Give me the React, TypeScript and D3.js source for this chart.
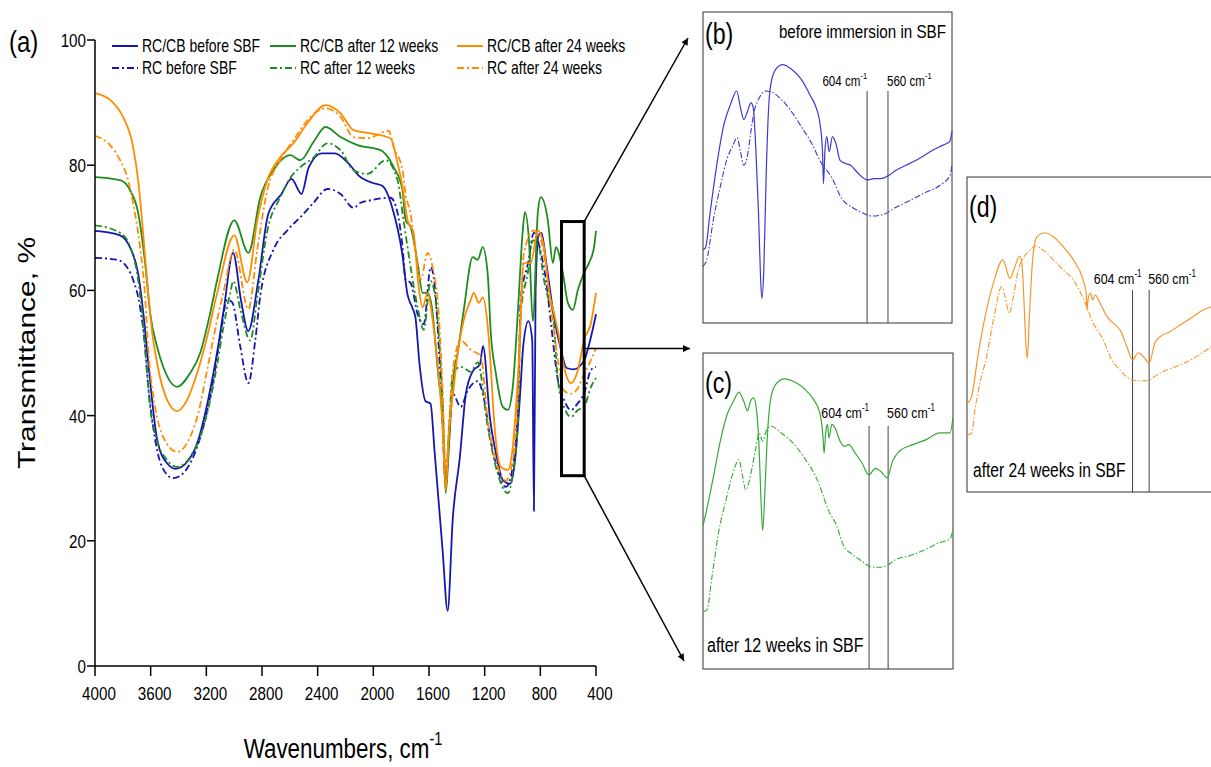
import * as d3 from "d3";
import type { ReactNode } from "react";

// ---- main panel (a) data: [wavenumber cm-1, transmittance %] ----
const wavenumberTicks = [4000, 3600, 3200, 2800, 2400, 2000, 1600, 1200, 800, 400];
const transmittanceTicks = [0, 20, 40, 60, 80, 100];

const rcCbBefore: [number, number][] = [
  [4000, 69.5], [3820, 68.8], [3747, 66.8], [3689, 62.6], [3652, 56.2], [3616, 48.2],
  [3551, 35.9], [3479, 32.3], [3421, 31.5], [3334, 32.7], [3261, 35.9], [3189, 42.3],
  [3117, 50.8], [3073, 57.2], [3008, 66.0], [2950, 58.3], [2899, 53.5], [2827, 61.5],
  [2755, 72.2], [2660, 75.4], [2588, 77.8], [2516, 75.4], [2465, 79.6], [2371, 81.9],
  [2277, 81.9], [2175, 80.2], [2103, 78.3], [2009, 77.2], [1936, 76.7], [1864, 73.2],
  [1792, 65.8], [1755, 59.4], [1719, 57.2], [1697, 55.6], [1668, 48.2], [1625, 42.3],
  [1589, 41.9], [1560, 34.3], [1502, 18.4], [1466, 8.8], [1429, 23.6], [1379, 33.2],
  [1335, 43.5], [1285, 47.1], [1234, 48.2], [1212, 51.1], [1162, 39.6], [1118, 33.9],
  [1067, 29.6], [1017, 29.1], [980, 33.2], [944, 43.9], [923, 51.1], [886, 55.1],
  [858, 52.0], [846, 24.8], [834, 60.0], [814, 68.7], [792, 69.2], [756, 64.2],
  [705, 56.2], [655, 50.8], [611, 47.6], [561, 47.4], [488, 48.7], [438, 52.4], [400, 56.2],
];

const rcBefore: [number, number][] = [
  [4000, 65.2], [3842, 64.9], [3770, 63.7], [3726, 61.7], [3676, 57.3], [3640, 50.9],
  [3626, 46.8], [3582, 38.2], [3518, 31.8], [3439, 30.0], [3366, 30.8], [3294, 33.4],
  [3222, 38.2], [3158, 44.6], [3100, 52.6], [3050, 58.5], [3014, 58.1], [2956, 51.0],
  [2898, 45.2], [2848, 52.1], [2812, 59.2], [2718, 66.5], [2618, 69.6], [2524, 71.7],
  [2430, 74.0], [2330, 76.2], [2236, 75.4], [2142, 73.2], [2092, 74.0], [2020, 74.4],
  [1876, 74.8], [1826, 72.4], [1790, 66.9], [1768, 61.7], [1732, 61.2], [1682, 56.2],
  [1638, 54.6], [1588, 63.7], [1566, 62.1], [1530, 51.0], [1502, 38.0], [1480, 29.0],
  [1451, 38.0], [1430, 43.5], [1372, 41.4], [1322, 44.0], [1250, 45.5], [1206, 42.8],
  [1156, 36.0], [1098, 30.7], [1048, 28.6], [998, 31.8], [962, 41.4], [940, 58.8],
  [890, 64.2], [846, 69.2], [796, 66.0], [760, 61.7], [724, 54.8], [674, 45.7],
  [630, 42.5], [580, 40.9], [530, 42.0], [486, 43.5], [436, 47.3], [400, 47.8],
];

const rcCb12w: [number, number][] = [
  [4000, 78.1], [3820, 77.6], [3748, 76.0], [3690, 72.4], [3640, 64.4], [3604, 56.4],
  [3554, 51.0], [3510, 47.8], [3410, 44.6], [3316, 46.8], [3244, 50.0], [3172, 56.4],
  [3122, 61.7], [2999, 71.2], [2898, 66.0], [2812, 74.9], [2718, 79.2], [2596, 81.6],
  [2524, 80.8], [2430, 83.7], [2344, 86.1], [2236, 84.5], [2114, 83.2], [1948, 82.4],
  [1854, 79.7], [1790, 76.0], [1768, 71.2], [1732, 70.1], [1682, 64.4], [1646, 59.6],
  [1610, 59.6], [1574, 56.4], [1552, 51.0], [1530, 45.7], [1502, 39.8], [1480, 27.6],
  [1458, 34.5], [1430, 45.2], [1394, 50.0], [1350, 56.9], [1286, 65.3], [1250, 64.9],
  [1214, 66.9], [1178, 62.6], [1156, 53.2], [1120, 46.8], [1070, 41.4], [1034, 40.9],
  [998, 44.6], [962, 56.4], [926, 69.6], [911, 72.5], [882, 68.1], [854, 55.1],
  [818, 72.4], [796, 74.9], [746, 71.2], [710, 64.4], [688, 66.9], [638, 62.8],
  [602, 58.0], [566, 56.9], [530, 60.1], [486, 62.8], [450, 64.4], [414, 66.9], [400, 69.5],
];

const rc12w: [number, number][] = [
  [4000, 70.4], [3820, 69.2], [3748, 67.0], [3698, 62.8], [3662, 56.5], [3626, 47.0],
  [3604, 41.4], [3554, 36.0], [3482, 32.9], [3410, 31.8], [3316, 33.4], [3244, 36.6],
  [3172, 42.5], [3122, 48.2], [3078, 54.0], [3028, 59.6], [3006, 61.5], [2956, 57.0],
  [2884, 52.0], [2834, 58.9], [2762, 69.5], [2668, 74.9], [2596, 78.0], [2524, 79.7],
  [2430, 81.2], [2330, 83.5], [2236, 82.4], [2142, 79.2], [2042, 78.6], [1912, 80.8],
  [1826, 77.6], [1783, 71.2], [1732, 63.7], [1682, 57.3], [1638, 53.7], [1588, 61.5],
  [1538, 55.3], [1502, 42.0], [1480, 30.0], [1451, 40.0], [1430, 46.8], [1372, 47.8],
  [1300, 47.0], [1250, 48.5], [1178, 38.2], [1106, 30.7], [1034, 27.6], [998, 30.7],
  [962, 38.8], [940, 56.4], [890, 62.8], [854, 68.0], [810, 66.9], [774, 61.7],
  [746, 59.0], [710, 56.4], [674, 45.7], [630, 41.4], [580, 39.8], [530, 40.9],
  [486, 41.4], [436, 44.6], [400, 46.0],
];

const rcCb24w: [number, number][] = [
  [4000, 91.5], [3870, 90.0], [3798, 87.7], [3726, 82.9], [3690, 77.6], [3662, 71.2],
  [3626, 61.7], [3590, 53.5], [3554, 48.4], [3482, 42.5], [3410, 40.7], [3338, 42.5],
  [3266, 46.8], [3194, 52.6], [3122, 59.6], [2999, 68.8], [2906, 61.3], [2834, 71.2],
  [2762, 77.6], [2668, 81.3], [2574, 83.5], [2474, 86.7], [2344, 89.6], [2236, 88.3],
  [2142, 85.6], [2020, 85.1], [1876, 84.3], [1826, 80.3], [1790, 76.5], [1754, 71.2],
  [1711, 69.2], [1674, 60.5], [1646, 57.3], [1610, 59.6], [1574, 55.3], [1538, 48.4],
  [1502, 38.0], [1480, 28.0], [1458, 37.0], [1422, 44.6], [1394, 49.9], [1350, 55.3],
  [1300, 58.5], [1278, 59.6], [1242, 58.0], [1214, 58.9], [1178, 54.3], [1156, 47.8],
  [1134, 39.8], [1084, 31.8], [1034, 31.3], [998, 35.0], [962, 45.7], [918, 64.4],
  [868, 64.4], [818, 69.6], [774, 66.9], [738, 60.0], [702, 56.4], [666, 52.6],
  [630, 47.8], [580, 45.2], [530, 47.3], [486, 52.1], [436, 54.8], [400, 59.6],
];

const rc24w: [number, number][] = [
  [4000, 84.7], [3892, 83.2], [3820, 80.8], [3762, 77.6], [3726, 73.9], [3676, 66.9],
  [3640, 59.0], [3618, 50.8], [3568, 41.4], [3510, 36.6], [3410, 34.2], [3316, 36.6],
  [3258, 40.4], [3194, 47.3], [3122, 55.3], [3078, 59.6], [2999, 66.5], [2898, 57.0],
  [2834, 66.5], [2762, 76.0], [2668, 80.8], [2574, 84.0], [2452, 87.7], [2344, 89.1],
  [2236, 87.7], [2142, 84.5], [2042, 84.3], [1890, 85.5], [1854, 82.9], [1790, 79.2],
  [1768, 75.4], [1732, 72.2], [1696, 66.0], [1660, 61.7], [1610, 66.0], [1574, 63.7],
  [1530, 56.2], [1502, 44.0], [1480, 31.0], [1451, 40.0], [1430, 47.0], [1372, 52.0],
  [1300, 50.5], [1228, 49.5], [1178, 39.3], [1106, 31.8], [1048, 29.6], [998, 32.9],
  [962, 42.5], [918, 66.0], [846, 69.6], [796, 68.0], [760, 63.7], [724, 57.3],
  [674, 48.9], [630, 44.0], [580, 43.5], [530, 44.4], [486, 46.6], [436, 48.9], [400, 50.8],
];

// ---- inset data: [wavenumber cm-1, relative transmittance] ----
const insetB_solid: [number, number][] = [
  [950, 23.6], [945, 24.1], [935, 35.5], [920, 51.8], [906, 63.8], [892, 70.3], [879, 74.6],
  [871, 69.2], [864, 65.4], [856, 68.1], [849, 70.8], [844, 69.2], [839, 57.2], [833, 35.5],
  [829, 16.1], [826, 7.9], [822, 16.1], [817, 46.4], [812, 68.1], [807, 76.8], [796, 81.7],
  [782, 83.1], [764, 81.7], [743, 78.4], [725, 73.5], [710, 68.6], [704, 64.8], [698, 55.1],
  [696, 44.8], [693, 55.1], [689, 59.9], [684, 55.1], [677, 59.9], [670, 57.8], [661, 52.3],
  [650, 51.3], [639, 50.7], [622, 48.0], [604, 46.0], [589, 46.4], [575, 46.4], [560, 47.3],
  [543, 49.1], [522, 50.7], [494, 52.9], [465, 55.6], [444, 57.2], [430, 58.3], [425, 61.6],
];
const insetB_dash: [number, number][] = [
  [950, 18.2], [942, 20.4], [928, 33.4], [913, 44.2], [899, 52.9], [888, 56.7], [878, 59.6],
  [871, 55.1], [864, 50.7], [856, 54.0], [849, 61.6], [842, 68.1], [832, 72.2], [817, 74.6],
  [803, 74.1], [785, 71.9], [764, 68.1], [743, 63.2], [721, 57.8], [700, 51.3], [679, 46.9],
  [657, 39.9], [636, 37.2], [615, 35.5], [593, 34.4], [568, 35.0], [543, 37.2], [515, 39.3],
  [479, 42.1], [451, 44.2], [429, 47.5], [425, 51.0],
];
const insetC_solid: [number, number][] = [
  [988, 45.4], [979, 50.7], [963, 61.4], [948, 72.1], [932, 80.6], [917, 84.9], [905, 87.6],
  [893, 84.4], [885, 81.7], [878, 84.9], [871, 85.8], [864, 81.7], [858, 68.9], [854, 53.9],
  [850, 43.8], [845, 56.0], [839, 74.2], [831, 85.9], [819, 90.2], [800, 91.8], [776, 90.8],
  [753, 88.6], [733, 85.4], [718, 81.1], [711, 74.2], [708, 68.3], [704, 75.3], [700, 77.4],
  [697, 73.1], [690, 77.4], [683, 76.4], [671, 72.1], [661, 70.5], [651, 71.0], [636, 68.3],
  [620, 65.1], [605, 61.4], [589, 63.5], [577, 62.5], [562, 60.5], [550, 65.7], [534, 68.9],
  [503, 71.0], [472, 72.6], [441, 74.7], [417, 74.7], [410, 79.6],
];
const insetC_dash: [number, number][] = [
  [988, 18.1], [979, 18.7], [967, 29.4], [952, 43.2], [936, 52.8], [920, 61.4], [905, 66.2],
  [897, 61.4], [889, 56.6], [878, 61.4], [866, 69.9], [858, 74.7], [850, 72.1], [842, 75.3],
  [831, 76.9], [807, 74.7], [784, 72.1], [753, 66.7], [722, 59.3], [698, 50.2], [679, 45.4],
  [663, 39.0], [643, 36.3], [620, 34.1], [600, 32.3], [581, 32.2], [562, 32.8], [542, 34.7],
  [511, 35.8], [472, 37.9], [441, 40.0], [417, 41.1], [410, 44.3],
];
const insetD_solid: [number, number][] = [
  [1042, 28.2], [1031, 30.3], [1013, 44.0], [995, 55.7], [973, 66.3], [948, 73.7], [929, 67.8],
  [916, 71.5], [904, 74.9], [898, 73.1], [892, 61.0], [887, 47.2], [883, 42.4], [878, 54.6],
  [869, 73.7], [858, 81.0], [836, 82.3], [814, 81.0], [788, 77.9], [761, 73.7], [735, 67.3],
  [727, 63.1], [725, 57.8], [721, 62.0], [715, 63.1], [710, 61.0], [703, 62.5], [690, 59.9],
  [672, 55.7], [655, 53.6], [637, 51.4], [619, 46.1], [604, 41.9], [589, 44.2], [574, 42.8],
  [560, 40.9], [545, 47.2], [531, 49.3], [505, 50.9], [478, 53.0], [443, 55.7], [417, 57.8],
  [396, 58.8],
];
const insetD_dash: [number, number][] = [
  [1042, 18.1], [1031, 18.6], [1022, 26.0], [1009, 34.5], [991, 43.0], [973, 54.6], [951, 65.2],
  [942, 62.0], [931, 56.7], [920, 62.0], [907, 70.5], [894, 74.2], [876, 76.8], [863, 78.1],
  [841, 76.8], [814, 73.7], [788, 70.5], [761, 67.3], [735, 61.5], [708, 53.6], [682, 48.3],
  [659, 41.9], [637, 38.7], [615, 36.1], [593, 35.3], [567, 35.3], [540, 37.1], [514, 38.7],
  [478, 40.3], [443, 42.4], [408, 45.1], [396, 46.1],
];
const markerBands = [604, 560];

const BLUE = "#1616b0";
const GREEN = "#1e8c1e";
const ORANGE = "#ff8c00";
const DASHDOT = "7,3,2,3";
const FONT = "'Liberation Sans', Arial, sans-serif";
const SQUEEZE = 0.8; // the figure is compressed horizontally, text looks narrow

const mainSeries = [
  { name: "RC/CB before SBF", data: rcCbBefore, color: BLUE, dash: null },
  { name: "RC before SBF", data: rcBefore, color: BLUE, dash: DASHDOT },
  { name: "RC/CB after 12 weeks", data: rcCb12w, color: GREEN, dash: null },
  { name: "RC after 12 weeks", data: rc12w, color: GREEN, dash: DASHDOT },
  { name: "RC/CB after 24 weeks", data: rcCb24w, color: ORANGE, dash: null },
  { name: "RC after 24 weeks", data: rc24w, color: ORANGE, dash: DASHDOT },
];

// narrow text: drawn at (x, y) and squeezed horizontally
function NText({ x, y, size, anchor = "start", children }: {
  x: number; y: number; size: number; anchor?: string; children: ReactNode;
}) {
  return (
    <text transform={`translate(${x},${y}) scale(${SQUEEZE},1)`} fontSize={size} textAnchor={anchor}>
      {children}
    </text>
  );
}

function Superscript({ base, sup, size }: { base: string; sup: string; size: number }) {
  return (
    <>
      {base}
      <tspan dy={-size * 0.45} fontSize={size * 0.65}>{sup}</tspan>
    </>
  );
}

type InsetProps = {
  x: number; y: number; w: number; h: number; plotRight: number;
  domain: [number, number];
  solid: [number, number][]; dash: [number, number][];
  color: string; letter: string; letterY: number;
  caption: string; captionX: number; captionY: number; captionAnchor: string; captionSize: number;
  bandLabelY: number; bandLineTop: number; bandFont: number; band604Shift: number;
};

function Inset(p: InsetProps) {
  const xs = d3.scaleLinear().domain(p.domain).range([p.x, p.plotRight]);
  const ys = d3.scaleLinear().domain([0, 100]).range([p.y + p.h, p.y]);
  const line = d3.line<[number, number]>().x((d) => xs(d[0])).y((d) => ys(d[1])).curve(d3.curveMonotoneX);
  return (
    <g>
      <rect x={p.x} y={p.y} width={p.w} height={p.h} fill="white" stroke="#333" strokeWidth={1} />
      {markerBands.map((b) => (
        <line key={b} x1={xs(b)} x2={xs(b)} y1={p.bandLineTop} y2={p.y + p.h} stroke="#444" strokeWidth={1} />
      ))}
      <path d={line(p.dash) ?? ""} fill="none" stroke={p.color} strokeWidth={1.1} strokeDasharray="6,2,1.5,2" />
      <path d={line(p.solid) ?? ""} fill="none" stroke={p.color} strokeWidth={1.2} />
      <NText x={p.x + 2} y={p.letterY} size={29}>{p.letter}</NText>
      <NText x={p.captionX} y={p.captionY} size={p.captionSize} anchor={p.captionAnchor}>{p.caption}</NText>
      <NText x={xs(604) + p.band604Shift} y={p.bandLabelY} size={p.bandFont} anchor="end">
        <Superscript base="604 cm" sup="-1" size={p.bandFont} />
      </NText>
      <NText x={xs(560) - 1} y={p.bandLabelY} size={p.bandFont}>
        <Superscript base="560 cm" sup="-1" size={p.bandFont} />
      </NText>
    </g>
  );
}

export default function App() {
  const W = 1211;
  const H = 767;
  const x = d3.scaleLinear().domain([4000, 400]).range([95, 596]);
  const y = d3.scaleLinear().domain([0, 100]).range([666, 40]);
  const line = d3.line<[number, number]>().x((d) => x(d[0])).y((d) => y(d[1])).curve(d3.curveMonotoneX);

  // zoom window drawn on panel (a)
  const win = { x0: x(648), x1: x(485), y0: y(71), y1: y(30.4) };
  const midY = (win.y0 + win.y1) / 2;

  const legendCols = [112, 270, 457];
  const legendRows = [46, 68];

  return (
    <svg width={W} height={H} style={{ position: "absolute", left: 0, top: 0, background: "white" }} fontFamily={FONT}>
      <defs>
        <marker id="arrow" viewBox="0 0 10 10" refX="10" refY="5" markerWidth="9" markerHeight="7" orient="auto" markerUnits="userSpaceOnUse">
          <path d="M0,0 L10,5 L0,10 z" fill="#000" />
        </marker>
      </defs>

      {/* panel (a) */}
      <NText x={9} y={52} size={30}>(a)</NText>

      {mainSeries.map((s) => (
        <path key={s.name} d={line(s.data) ?? ""} fill="none" stroke={s.color} strokeWidth={1.8}
          strokeDasharray={s.dash ?? undefined} />
      ))}

      {/* axes */}
      <line x1={x(4000)} x2={x(4000)} y1={y(100)} y2={y(0)} stroke="#000" strokeWidth={1.5} />
      <line x1={x(4000)} x2={x(400)} y1={y(0)} y2={y(0)} stroke="#000" strokeWidth={1.5} />
      {transmittanceTicks.map((t) => (
        <g key={t}>
          <line x1={x(4000) - 8} x2={x(4000)} y1={y(t)} y2={y(t)} stroke="#000" strokeWidth={1.5} />
          <NText x={x(4000) - 9} y={y(t) + 7} size={19} anchor="end">{t}</NText>
        </g>
      ))}
      {wavenumberTicks.map((t) => (
        <g key={t}>
          <line x1={x(t)} x2={x(t)} y1={y(0)} y2={y(0) + 10} stroke="#000" strokeWidth={1.5} />
          <NText x={x(t) + 4} y={700} size={19} anchor="middle">{t}</NText>
        </g>
      ))}
      <NText x={343} y={758} size={28} anchor="middle">
        <Superscript base="Wavenumbers, cm" sup="-1" size={28} />
      </NText>
      <text transform={`translate(35,353) rotate(-90) scale(1,${SQUEEZE})`} fontSize={30} textAnchor="middle">
        Transmittance, %
      </text>

      {/* legend */}
      {mainSeries.map((s, i) => {
        const cx = legendCols[Math.floor(i / 2)];
        const cy = legendRows[i % 2];
        return (
          <g key={s.name}>
            <line x1={cx} x2={cx + 26} y1={cy} y2={cy} stroke={s.color} strokeWidth={2} strokeDasharray={s.dash ?? undefined} />
            <NText x={cx + 30} y={cy + 6} size={17.5}>{s.name}</NText>
          </g>
        );
      })}

      {/* zoom window and arrows */}
      <rect x={win.x0} y={win.y0} width={win.x1 - win.x0} height={win.y1 - win.y0} fill="none" stroke="#000" strokeWidth={3} />
      <line x1={win.x1} y1={win.y0} x2={688} y2={38} stroke="#000" strokeWidth={1.5} markerEnd="url(#arrow)" />
      <line x1={win.x1} y1={midY} x2={690} y2={midY} stroke="#000" strokeWidth={1.5} markerEnd="url(#arrow)" />
      <line x1={win.x1} y1={win.y1} x2={684} y2={661} stroke="#000" strokeWidth={1.5} markerEnd="url(#arrow)" />

      {/* insets */}
      <Inset x={703} y={12} w={249} h={311} plotRight={952} domain={[950, 425]}
        solid={insetB_solid} dash={insetB_dash} color="#3b3bd0" letter="(b)" letterY={44}
        caption="before immersion in SBF" captionX={946} captionY={38} captionAnchor="end" captionSize={19}
        bandLabelY={86} bandLineTop={91} bandFont={14.5} band604Shift={0} />
      <Inset x={703} y={353} w={250} h={316} plotRight={953} domain={[988, 410]}
        solid={insetC_solid} dash={insetC_dash} color="#38a838" letter="(c)" letterY={393}
        caption="after 12 weeks in SBF" captionX={707} captionY={652} captionAnchor="start" captionSize={20}
        bandLabelY={418} bandLineTop={426} bandFont={15.5} band604Shift={0} />
      <Inset x={967} y={177} w={260} h={315} plotRight={1211} domain={[1043, 396]}
        solid={insetD_solid} dash={insetD_dash} color="#f7962a" letter="(d)" letterY={217}
        caption="after 24 weeks in SBF" captionX={973} captionY={477} captionAnchor="start" captionSize={19.5}
        bandLabelY={284} bandLineTop={290} bandFont={15.5} band604Shift={9} />
    </svg>
  );
}
